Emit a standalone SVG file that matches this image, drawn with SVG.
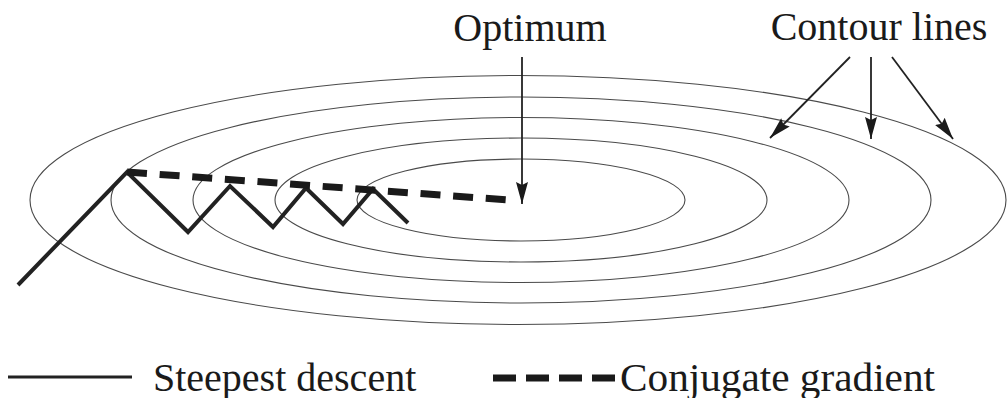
<svg xmlns="http://www.w3.org/2000/svg" width="1007" height="398" viewBox="0 0 1007 398">
  <style>
    .contour { fill: none; stroke: #4a4a4a; stroke-width: 1.1; }
    .arrow { fill: none; stroke: #222; stroke-width: 1.8; marker-end: url(#ah); }
    .steep { fill: none; stroke: #222; stroke-width: 4; stroke-linejoin: miter; stroke-linecap: butt; }
    .conj { fill: none; stroke: #1a1a1a; stroke-width: 7; stroke-dasharray: 20 12.7; }
    .lbl { font-family: "Liberation Serif", "Times New Roman", serif; font-size: 40px; fill: #1a1a1a; }
  </style>
  <defs>
    <marker id="ah" markerWidth="24" markerHeight="14" refX="22" refY="7" orient="auto" markerUnits="userSpaceOnUse">
      <path d="M0,1 L22,7 L0,13 L3,7 z" fill="#1a1a1a"/>
    </marker>
  </defs>
  <rect width="1007" height="398" fill="#ffffff"/>

  <g id="contours">
    <ellipse class="contour" cx="521" cy="200" rx="164" ry="41"/>
    <ellipse class="contour" cx="521" cy="200" rx="246" ry="62"/>
    <ellipse class="contour" cx="521" cy="200" rx="328" ry="82.5"/>
    <ellipse class="contour" cx="521" cy="200" rx="410" ry="103"/>
    <ellipse class="contour" cx="518" cy="200" rx="488" ry="124.5"/>
  </g>

  <g id="steepest-descent">
    <polyline class="steep" points="18,285 127,172 188,232 230,186 273,227 306,188 343,224 373,189 408,223"/>
  </g>

  <g id="conjugate-gradient">
    <line class="conj" x1="127" y1="172" x2="508" y2="200"/>
  </g>

  <g id="label-optimum">
    <text class="lbl" x="530" y="41" text-anchor="middle">Optimum</text>
  </g>
  <g id="label-contour">
    <text class="lbl" x="879" y="40" text-anchor="middle">Contour lines</text>
  </g>

  <g id="connectors">
    <line class="arrow" x1="522" y1="57" x2="522" y2="204"/>
    <line class="arrow" x1="850" y1="57" x2="770" y2="138"/>
    <line class="arrow" x1="871" y1="57" x2="871" y2="139"/>
    <line class="arrow" x1="892" y1="57" x2="953" y2="139"/>
  </g>

  <g id="legend">
    <line x1="8" y1="377" x2="132" y2="377" stroke="#222" stroke-width="3"/>
    <text class="lbl" x="153" y="391">Steepest descent</text>
    <line x1="493" y1="378" x2="615" y2="378" stroke="#1a1a1a" stroke-width="7" stroke-dasharray="23 10"/>
    <text class="lbl" x="620" y="391" textLength="315" lengthAdjust="spacingAndGlyphs">Conjugate gradient</text>
  </g>
</svg>
